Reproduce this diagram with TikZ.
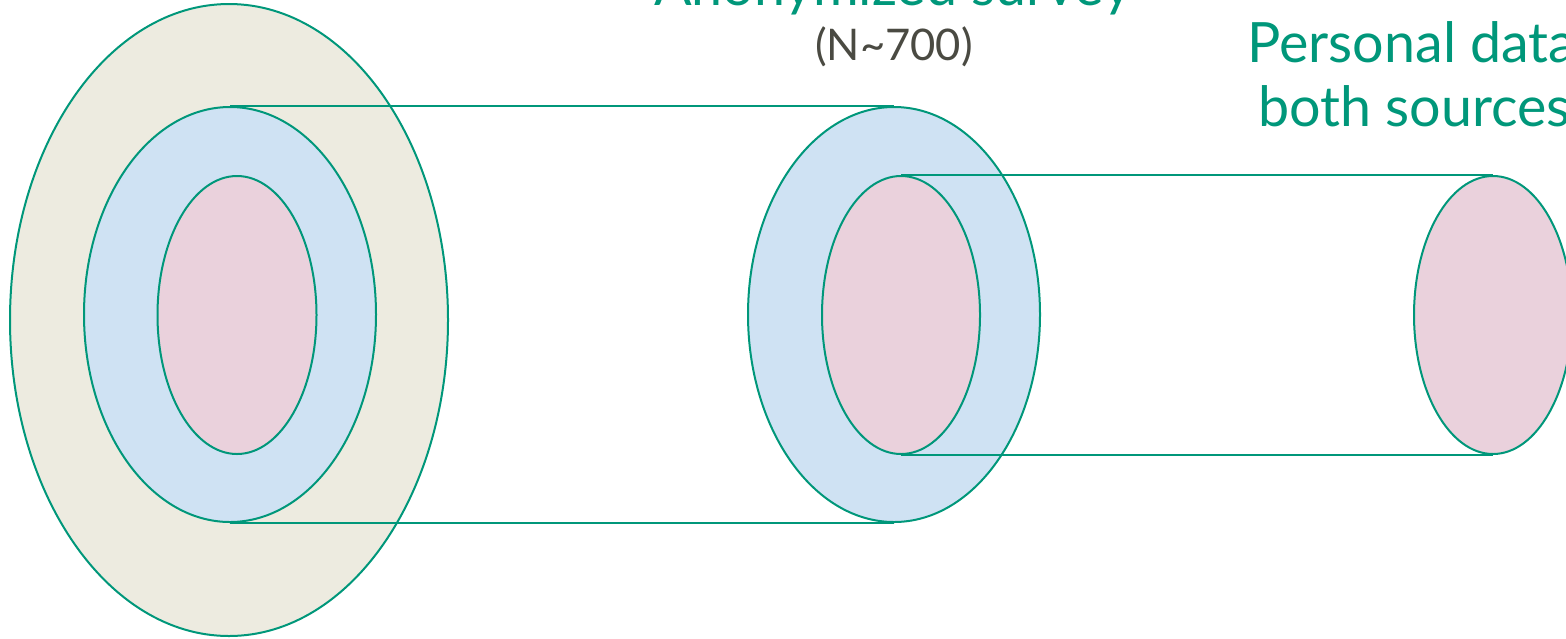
\documentclass[tikz,border=0pt]{standalone}
\usepackage{fontspec}
\setmainfont{Lato}
\usetikzlibrary{shapes.geometric}
\definecolor{edge}{HTML}{00977A}
\definecolor{beige}{HTML}{EDEBE0}
\definecolor{lblue}{HTML}{CFE2F3}
\definecolor{lpink}{HTML}{EAD1DC}
\definecolor{txtgray}{HTML}{4A4A42}
\tikzset{
  set/.style={ellipse, draw=edge, line width=1pt, inner sep=0pt},
  link/.style={draw=edge, line width=1pt},
  title/.style={text=edge, font=\fontsize{27.8}{34}\selectfont, inner sep=0pt},
  sub/.style={text=txtgray, font=\fontsize{21.8}{26}\selectfont, inner sep=0pt}
}
\begin{document}
\begin{tikzpicture}[x=0.5pt,y=-0.5pt]
\useasboundingbox (0,0) rectangle (1566,638);
% left nested sets
\node[set, fill=beige, minimum width=219pt, minimum height=316pt] (all) at (229,320) {};
\node[set, fill=lblue, minimum width=146pt, minimum height=207.5pt] (lb) at (230,314.5) {};
\node[set, fill=lpink, minimum width=79.5pt, minimum height=139pt] (lp) at (237,315) {};
% middle
\node[set, fill=lblue, minimum width=146pt, minimum height=207.5pt] (mb) at (894,314.5) {};
\node[set, fill=lpink, minimum width=79pt, minimum height=139pt] (mp) at (901,315) {};
% right
\node[set, fill=lpink, minimum width=79pt, minimum height=139pt] (rp) at (1493,315) {};
% connectors
\draw[link] (lb.north) -- (mb.north);
\draw[link] (lb.south) -- (mb.south);
\draw[link] (mp.north) -- (rp.north);
\draw[link] (mp.south) -- (rp.south);
% labels
\node[title, anchor=base] (anon) at (893,5) {Anonymized survey};
\node[sub, anchor=base] (n) at (894,60) {(N\textasciitilde700)};
\node[title, anchor=base west] (pd1) at (1247,62) {Personal data};
\node[title, anchor=base west] (pd2) at (1258,126) {both sources};
\end{tikzpicture}
\end{document}
